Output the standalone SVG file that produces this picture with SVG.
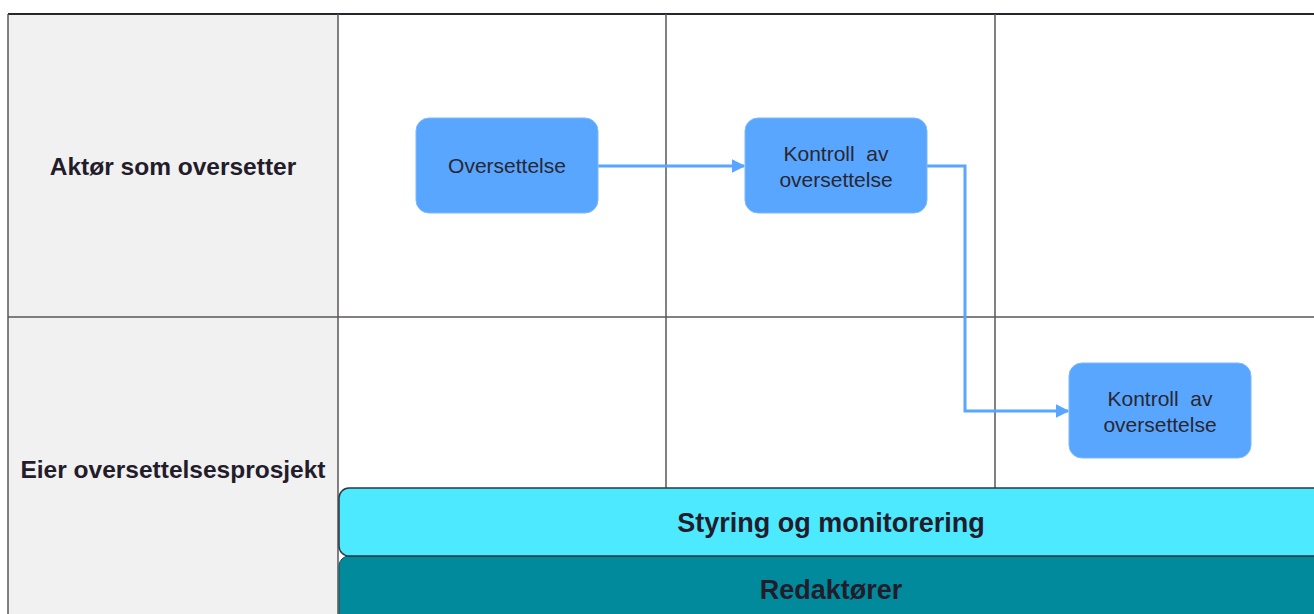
<svg xmlns="http://www.w3.org/2000/svg" width="1314" height="614" viewBox="0 0 1314 614">
<defs>
<style>
.grid{stroke:#5a5458;stroke-width:1.5;fill:none}
.lane{font-family:"Liberation Sans",Arial,sans-serif;font-weight:bold;font-size:24.5px;fill:#231c2b;text-anchor:middle}
.box{fill:#58a6ff;stroke:#7cb9ff;stroke-width:1}
.bt{font-family:"Liberation Sans",Arial,sans-serif;font-size:21px;fill:#2a2630;text-anchor:middle;white-space:pre}
.band{font-family:"Liberation Sans",Arial,sans-serif;font-weight:bold;font-size:27px;fill:#231c2b;text-anchor:middle}
.conn{stroke:#58a6ff;stroke-width:3;fill:none}
</style>
<marker id="ah" viewBox="0 0 10 10" refX="9" refY="5" markerWidth="4.5" markerHeight="4.5" orient="auto" markerUnits="strokeWidth">
<path d="M0,0 L10,5 L0,10 z" fill="#58a6ff"/>
</marker>
</defs>
<rect width="1314" height="614" fill="#ffffff"/>
<g id="lanes">
<rect x="8" y="14" width="330" height="610" fill="#f1f1f1"/>
<line class="grid" x1="8" y1="14" x2="1314" y2="14" style="stroke:#2a2430;stroke-width:2"/>
<line class="grid" x1="8" y1="14" x2="8" y2="614"/>
<line class="grid" x1="338" y1="14" x2="338" y2="614"/>
<line class="grid" x1="666" y1="14" x2="666" y2="490"/>
<line class="grid" x1="995" y1="14" x2="995" y2="490"/>
<line class="grid" x1="8" y1="317" x2="1314" y2="317"/>
<text class="lane" x="173" y="175">Aktør som oversetter</text>
<text class="lane" x="173" y="478">Eier oversettelsesprosjekt</text>
</g>
<g id="connectors">
<path class="conn" d="M598,166 L744,166" marker-end="url(#ah)"/>
<path class="conn" d="M927,166 L965,166 L965,411 L1068,411" marker-end="url(#ah)"/>
</g>
<g id="n1">
<rect class="box" x="416" y="118" width="182" height="95" rx="13"/>
<text class="bt" x="507" y="173">Oversettelse</text>
</g>
<g id="n2">
<rect class="box" x="745" y="118" width="182" height="95" rx="13"/>
<text class="bt" x="836" y="161">Kontroll  av</text>
<text class="bt" x="836" y="187">oversettelse</text>
</g>
<g id="n3">
<rect class="box" x="1069" y="363" width="182" height="95" rx="13"/>
<text class="bt" x="1160" y="406">Kontroll  av</text>
<text class="bt" x="1160" y="432">oversettelse</text>
</g>
<g id="redaktorer">
<rect x="339" y="556" width="990" height="80" rx="10" fill="#008a9c" stroke="#1f4a50" stroke-width="1"/>
<text class="band" x="831" y="599">Redaktører</text>
</g>
<g id="styring">
<rect x="339" y="488" width="990" height="68" rx="10" fill="#4de9ff" stroke="#2a3a40" stroke-width="1.5"/>
<text class="band" x="831" y="532">Styring og monitorering</text>
</g>
</svg>
